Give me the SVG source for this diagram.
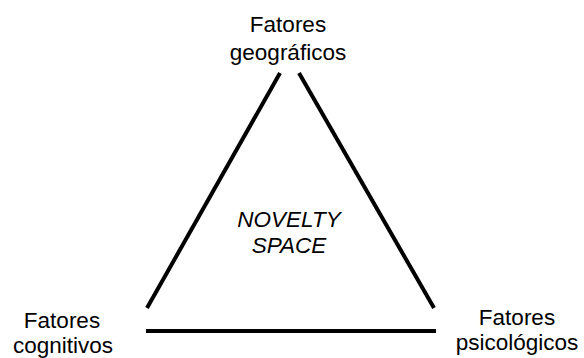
<svg xmlns="http://www.w3.org/2000/svg" width="584" height="358" viewBox="0 0 584 358">
<style>
.t{font-family:"Liberation Sans",Arial,sans-serif;font-size:22.5px;fill:#000;text-anchor:middle}
.i{font-style:italic}
.e{stroke:#000;stroke-width:4;fill:none}
</style>
<rect width="584" height="358" fill="#fff"/>
<g id="connectors">
<line class="e" x1="280" y1="73" x2="147" y2="308"/>
<line class="e" x1="299" y1="73" x2="434" y2="308"/>
<line class="e" x1="146" y1="331" x2="436" y2="331"/>
</g>
<g id="geo"><text class="t" x="288" y="32">Fatores</text><text class="t" x="288" y="60">geográficos</text></g>
<g id="cog"><text class="t" x="62" y="328">Fatores</text><text class="t" x="63" y="353">cognitivos</text></g>
<g id="psi"><text class="t" x="517" y="325">Fatores</text><text class="t" x="517" y="350">psicológicos</text></g>
<g id="novelty"><text class="t i" x="289" y="227">NOVELTY</text><text class="t i" x="289" y="253">SPACE</text></g>
</svg>
